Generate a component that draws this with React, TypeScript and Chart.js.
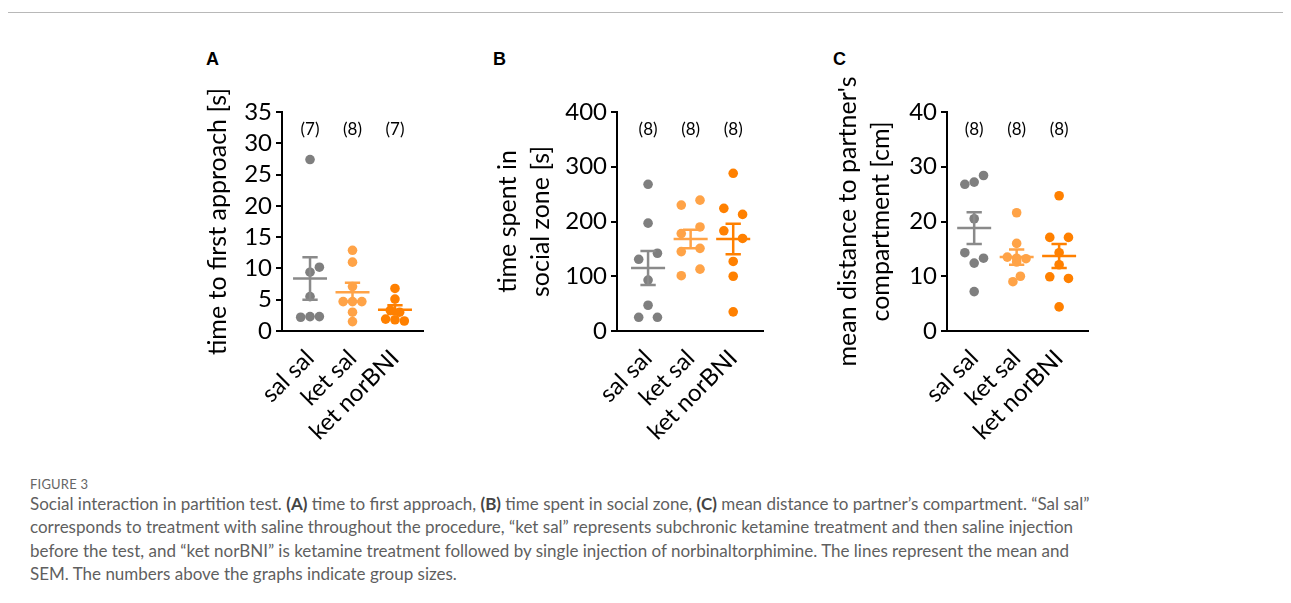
import React, { useEffect, useRef } from "react";
import { Chart, registerables } from "chart.js";

Chart.register(...registerables);

// ---------- data ----------
const groups = ["sal sal", "ket sal", "ket norBNI"];
const pointColors = ["#7f7f7f", "#ffa347", "#ff8000"];
const barColors = ["#8a8a8a", "#ffa347", "#ff8000"];

// jitter slot width (x units)
const STEP = 0.22;

// Panel A: time to first approach [s]
const approachSalSal = [27.4, 10.2, 9.4, 5.5, 2.2, 2.3, 2.3];
const approachKetSal = [12.9, 11.0, 7.1, 4.7, 4.7, 4.7, 3.0, 1.5];
const approachKetNor = [6.8, 5.1, 3.3, 3.0, 1.9, 1.8, 1.6];
const approachSlotsSalSal = [0, 1, 0, 0, -1, 0, 1];
const approachSlotsKetSal = [0, 0, 0, -1, 0, 1, 0, 0];
const approachSlotsKetNor = [0, 0, -0.5, 0.5, -1, 0, 1];
const approachMeans = [8.4, 6.2, 3.4];
const approachSems = [3.4, 1.5, 0.7];
const approachN = [7, 8, 7];

// Panel B: time spent in social zone [s]
const zoneSalSal = [268, 197, 142, 131, 93, 47, 25, 25];
const zoneKetSal = [239, 230, 190, 178, 151, 145, 113, 101];
const zoneKetNor = [288, 224, 213, 183, 169, 127, 100, 35];
const zoneSlotsSalSal = [0, 0, 1, -1, 0, 0, -1, 1];
const zoneSlotsKetSal = [1, -1, 1, -1, 1, -1, 1, -1];
const zoneSlotsKetNor = [0, -1, 1, -1, 1, 0, 0, 0];
const zoneMeans = [115, 168, 168];
const zoneSems = [31, 17, 28];
const zoneN = [8, 8, 8];

// Panel C: mean distance to partner's compartment [cm]
const distSalSal = [28.4, 27.2, 26.8, 20.5, 14.3, 13.3, 12.4, 7.2];
const distKetSal = [21.6, 16.0, 13.5, 13.3, 13.2, 12.6, 10.0, 9.0];
const distKetNor = [24.7, 17.1, 17.1, 14.3, 12.1, 9.9, 9.6, 4.4];
const distSlotsSalSal = [1, 0, -1, 0, -1, 1, 0, 0];
const distSlotsKetSal = [0, 0, -1, 0, 1, 0, 0.4, -0.4];
const distSlotsKetNor = [0, -1, 1, 0, 0, -1, 1, 0];
const distMeans = [18.8, 13.5, 13.7];
const distSems = [2.9, 1.4, 2.2];
const distN = [8, 8, 8];

const yTicksA = { max: 35, step: 5 };
const yTicksB = { max: 400, step: 100 };
const yTicksC = { max: 40, step: 10 };

const FONT = "Lato";

// ---------- overlay plugin: mean ± SEM and group sizes ----------
const overlayPlugin = {
  id: "overlay",
  afterDatasetsDraw(chart: any, _args: any, opts: any) {
    const { ctx, chartArea } = chart;
    const x = chart.scales.x;
    const y = chart.scales.y;
    opts.means.forEach((m: number, i: number) => {
      const s = opts.sems[i];
      const xc = x.getPixelForValue(i);
      const ym = y.getPixelForValue(m);
      const yt = y.getPixelForValue(m + s);
      const yb = y.getPixelForValue(m - s);
      const hw = x.getPixelForValue(i + 0.4) - xc;
      const cw = x.getPixelForValue(i + 0.18) - xc;
      ctx.save();
      ctx.strokeStyle = barColors[i];
      ctx.lineWidth = 2.5;
      ctx.beginPath();
      ctx.moveTo(xc - hw, ym);
      ctx.lineTo(xc + hw, ym);
      ctx.moveTo(xc, yt);
      ctx.lineTo(xc, yb);
      ctx.moveTo(xc - cw, yt);
      ctx.lineTo(xc + cw, yt);
      ctx.moveTo(xc - cw, yb);
      ctx.lineTo(xc + cw, yb);
      ctx.stroke();
      ctx.restore();
    });
    ctx.save();
    ctx.font = `17px ${FONT}`;
    ctx.fillStyle = "#000";
    ctx.textAlign = "center";
    ctx.textBaseline = "middle";
    opts.ns.forEach((n: number, i: number) => {
      ctx.fillText(`(${n})`, x.getPixelForValue(i), chartArea.top + 18);
    });
    ctx.restore();
  },
};

type PanelProps = {
  values: number[][];
  slots: number[][];
  means: number[];
  sems: number[];
  ns: number[];
  yMax: number;
  yStep: number;
  yTitle: string | string[];
  layout: {
    left: number;
    top: number;
    width: number;
    height: number;
    padLeft: number;
    padTop: number;
    padRight: number;
    yWidth: number;
    xHeight: number;
    titlePad: number;
    titleLH: number;
    xMin: number;
    xMax: number;
  };
};

function Panel(p: PanelProps) {
  const ref = useRef<HTMLCanvasElement | null>(null);
  useEffect(() => {
    if (!ref.current) return;
    const L = p.layout;
    const datasets = p.values.map((vals, i) => ({
      label: groups[i],
      data: vals.map((v, k) => ({ x: i + p.slots[i][k] * STEP, y: v })),
      backgroundColor: pointColors[i],
      borderWidth: 0,
      pointRadius: 4.8,
      pointHoverRadius: 4.8,
    }));
    const chart = new Chart(ref.current, {
      type: "scatter",
      data: { datasets },
      plugins: [overlayPlugin as any],
      options: {
        animation: false,
        responsive: false,
        events: [],
        layout: {
          padding: { left: L.padLeft, top: L.padTop, right: L.padRight, bottom: 0 },
        },
        plugins: {
          legend: { display: false },
          tooltip: { enabled: false },
          overlay: { means: p.means, sems: p.sems, ns: p.ns },
        } as any,
        scales: {
          x: {
            type: "linear",
            min: L.xMin,
            max: L.xMax,
            afterBuildTicks: (s: any) => {
              s.ticks = groups.map((_, i) => ({ value: i }));
            },
            afterFit: (s: any) => {
              s.height = L.xHeight;
            },
            ticks: {
              autoSkip: false,
              minRotation: 45,
              maxRotation: 45,
              padding: 13,
              color: "#000",
              font: { family: FONT, size: 24 },
              callback: (v: any) => groups[Math.round(Number(v))] ?? "",
            },
            grid: { display: false, drawTicks: false },
            border: { display: true, color: "#000", width: 2 },
          },
          y: {
            min: 0,
            max: p.yMax,
            afterFit: (s: any) => {
              s.width = L.yWidth;
            },
            ticks: {
              autoSkip: false,
              stepSize: p.yStep,
              padding: 4,
              color: "#000",
              font: { family: FONT, size: 24 },
            },
            grid: {
              drawOnChartArea: false,
              drawTicks: true,
              tickLength: 6,
              color: "#000",
              lineWidth: 2,
            },
            border: { display: true, color: "#000", width: 2 },
            title: {
              display: true,
              text: p.yTitle,
              color: "#000",
              font: { family: FONT, size: 25, lineHeight: L.titleLH },
              padding: { top: L.titlePad, bottom: 0 },
            },
          },
        },
      } as any,
    });
    return () => chart.destroy();
  }, []);
  const L = p.layout;
  return (
    <canvas
      ref={ref}
      width={L.width}
      height={L.height}
      style={{ position: "absolute", left: L.left, top: L.top, width: L.width, height: L.height }}
    />
  );
}

const panelLetterStyle: React.CSSProperties = {
  position: "absolute",
  top: 41.5,
  font: "bold 18px 'Liberation Sans', Arial, sans-serif",
  lineHeight: "18px",
  color: "#000",
};

const captionLines = [
  [
    { t: "Social interaction in partition test. " },
    { t: "(A)", b: true },
    { t: " time to first approach, " },
    { t: "(B)", b: true },
    { t: " time spent in social zone, " },
    { t: "(C)", b: true },
    { t: " mean distance to partner\u2019s compartment. \u201cSal sal\u201d" },
  ],
  [
    {
      t: "corresponds to treatment with saline throughout the procedure, \u201cket sal\u201d represents subchronic ketamine treatment and then saline injection",
    },
  ],
  [
    {
      t: "before the test, and \u201cket norBNI\u201d is ketamine treatment followed by single injection of norbinaltorphimine. The lines represent the mean and",
    },
  ],
  [{ t: "SEM. The numbers above the graphs indicate group sizes." }],
];

export default function App() {
  return (
    <div style={{ position: "relative", width: 1275, height: 587 }}>
      <div
        style={{
          position: "absolute",
          left: -4,
          top: 4,
          width: 1286,
          height: 590,
          borderTop: "1px solid #b8b8b8",
          borderLeft: "1px solid #b8b8b8",
          boxSizing: "border-box",
          zIndex: 2,
          pointerEvents: "none",
        }}
      />
      <div style={{ ...panelLetterStyle, left: 198 }}>A</div>
      <div style={{ ...panelLetterStyle, left: 485 }}>B</div>
      <div style={{ ...panelLetterStyle, left: 825 }}>C</div>
      <Panel
        values={[approachSalSal, approachKetSal, approachKetNor]}
        slots={[approachSlotsSalSal, approachSlotsKetSal, approachSlotsKetNor]}
        means={approachMeans}
        sems={approachSems}
        ns={approachN}
        yMax={yTicksA.max}
        yStep={yTicksA.step}
        yTitle="time to first approach [s]"
        layout={{
          left: 182, top: 32, width: 250, height: 430,
          padLeft: 12, padTop: 72, padRight: 17, yWidth: 80, xHeight: 139,
          titlePad: 0.5, titleLH: 1.2, xMin: -0.66, xMax: 2.66,
        }}
      />
      <Panel
        values={[zoneSalSal, zoneKetSal, zoneKetNor]}
        slots={[zoneSlotsSalSal, zoneSlotsKetSal, zoneSlotsKetNor]}
        means={zoneMeans}
        sems={zoneSems}
        ns={zoneN}
        yMax={yTicksB.max}
        yStep={yTicksB.step}
        yTitle={["time spent in", "social zone [s]"]}
        layout={{
          left: 462, top: 32, width: 310, height: 430,
          padLeft: 12, padTop: 72, padRight: 17, yWidth: 135, xHeight: 139,
          titlePad: 9.5, titleLH: 1.32, xMin: -0.73, xMax: 2.7,
        }}
      />
      <Panel
        values={[distSalSal, distKetSal, distKetNor]}
        slots={[distSlotsSalSal, distSlotsKetSal, distSlotsKetNor]}
        means={distMeans}
        sems={distSems}
        ns={distN}
        yMax={yTicksC.max}
        yStep={yTicksC.step}
        yTitle={["mean distance to partner's", "compartment [cm]"]}
        layout={{
          left: 812, top: 32, width: 290, height: 430,
          padLeft: 0, padTop: 72, padRight: 22, yWidth: 127, xHeight: 139,
          titlePad: 11.5, titleLH: 1.32, xMin: -0.64, xMax: 2.68,
        }}
      />
      <div
        style={{
          position: "absolute",
          left: 22,
          top: 468,
          font: `13px ${FONT}`,
          color: "#666",
          letterSpacing: "0.2px",
        }}
      >
        FIGURE 3
      </div>
      <div
        style={{
          position: "absolute",
          left: 22,
          top: 484,
          font: `17px ${FONT}`,
          lineHeight: "23.3px",
          color: "#5f5f5f",
          whiteSpace: "nowrap",
        }}
      >
        {captionLines.map((line, li) => (
          <div key={li}>
            {line.map((seg: any, si) =>
              seg.b ? (
                <b key={si} style={{ color: "#444" }}>
                  {seg.t}
                </b>
              ) : (
                <span key={si}>{seg.t}</span>
              )
            )}
          </div>
        ))}
      </div>
    </div>
  );
}
